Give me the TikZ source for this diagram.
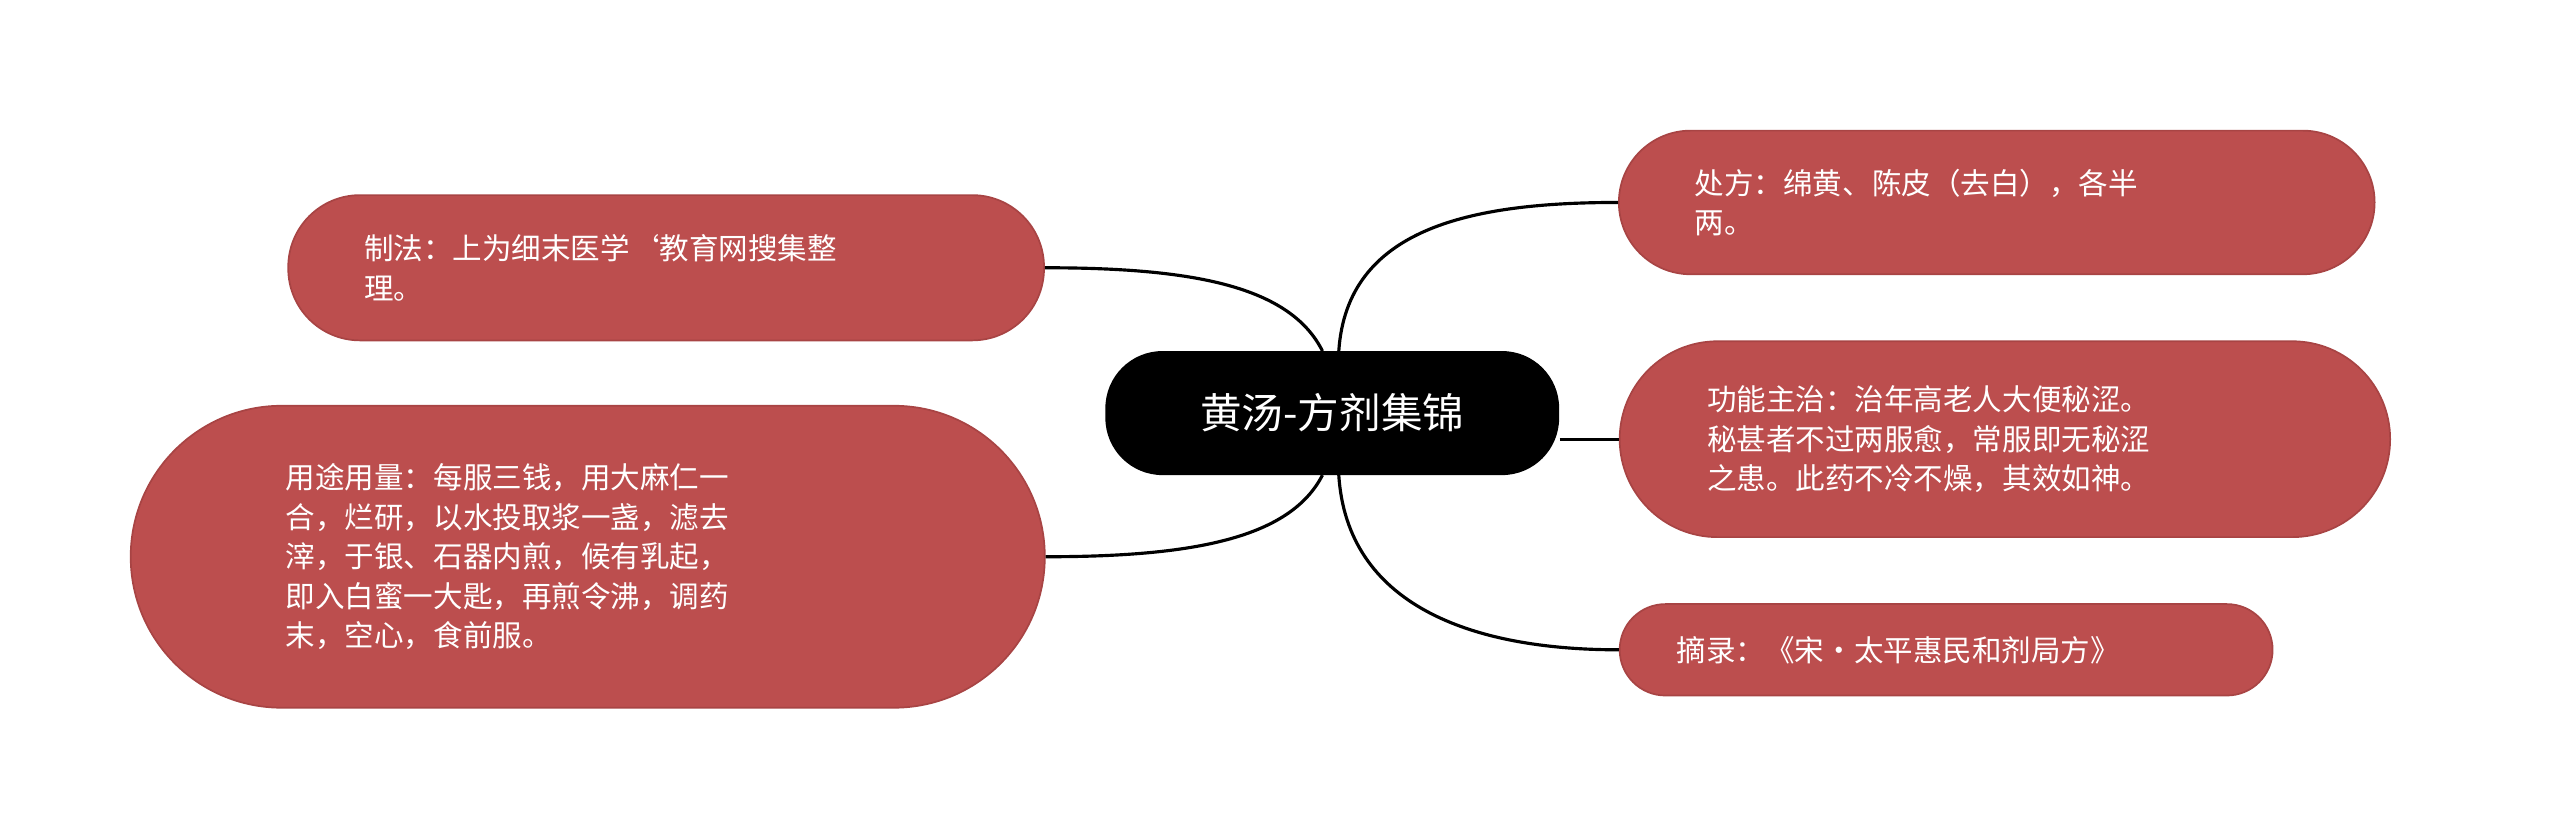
\documentclass[tikz,border=0pt]{standalone}
\usepackage{fontspec}
\setmainfont{Noto Sans CJK SC}
\begin{document}
\begin{tikzpicture}[x=0.02cm,y=-0.02cm,
  leaf/.style={fill=red!45!black!10!red!60!black, fill=leafc, draw=leafd, line width=0.6pt, text=white,
    font=\fontsize{10.3pt}{13.8pt}\selectfont, align=left, inner xsep=0pt, inner ysep=0pt},
  root/.style={fill=black, text=white, rounded corners=0.7cm, font=\fontsize{14.5pt}{17pt}\selectfont,
    minimum width=5.56cm, minimum height=1.52cm},
  link/.style={line width=1.1pt, black}]
\definecolor{leafc}{HTML}{BC4E4E}
\definecolor{leafd}{HTML}{A84444}
\useasboundingbox (0,0) rectangle (1568,514);
\node[root] (c) at (816,253) {黄汤-方剂集锦};
\node[leaf, rounded corners=0.88cm, minimum width=9.26cm, minimum height=1.76cm, text width=7.4cm] (a) at (1223,124) {处方：绵黄、陈皮（去白），各半\\两。};
\node[leaf, rounded corners=1.2cm, minimum width=9.44cm, minimum height=2.4cm, text width=7.3cm] (b) at (1228,269) {功能主治：治年高老人大便秘涩。\\秘甚者不过两服愈，常服即无秘涩\\之患。此药不冷不燥，其效如神。};
\node[leaf, rounded corners=0.56cm, minimum width=8cm, minimum height=1.12cm, text width=6.6cm] (d) at (1192,398) {摘录：《宋·太平惠民和剂局方》};
\node[leaf, rounded corners=0.88cm, minimum width=9.26cm, minimum height=1.78cm, text width=7.4cm] (e) at (408,164) {制法：上为细末医学`教育网搜集整\\理。};
\node[leaf, rounded corners=1.85cm, minimum width=11.2cm, minimum height=3.7cm, text width=7.4cm] (f) at (360,341) {用途用量：每服三钱，用大麻仁一\\合，烂研，以水投取浆一盏，滤去\\滓，于银、石器内煎，候有乳起，\\即入白蜜一大匙，再煎令沸，调药\\末，空心，食前服。};
\coordinate (rt) at (820,215);
\coordinate (rb) at (820,291);
\coordinate (lt) at (810,215);
\coordinate (lb) at (810,291);
\draw[link] (rt) .. controls (825,140) and (900,124) .. (a.west);
\draw[link] (c.east |- b.west) -- (b.west);
\draw[link] (rb) .. controls (825,370) and (900,398) .. (d.west);
\draw[link] (lt) .. controls (790,175) and (730,164) .. (e.east);
\draw[link] (lb) .. controls (790,330) and (730,341) .. (f.east);
\end{tikzpicture}
\end{document}
